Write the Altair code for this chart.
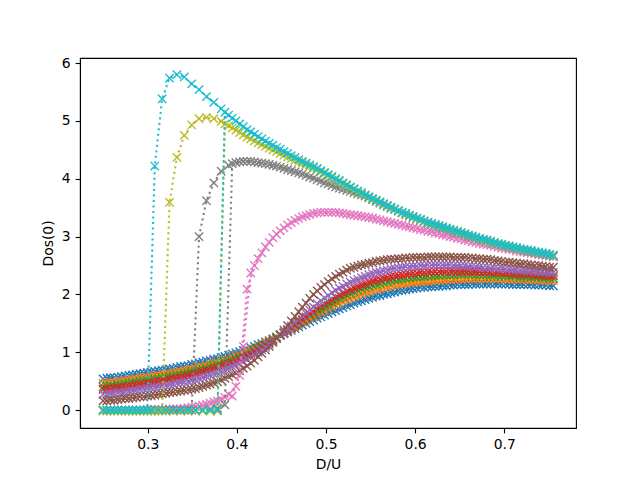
import altair as alt
import numpy as np
import pandas as pd

# Two interleaved D/U grids: the downward sweep (62 pts) and the upward sweep (61 pts, mid-way)
XD = np.linspace(0.25, 0.755, 62)
XU = (XD[:-1] + XD[1:]) / 2

BLUE_DN = [0.54, 0.56, 0.57, 0.59, 0.61, 0.63, 0.65, 0.67, 0.69, 0.71, 0.74, 0.76, 0.79, 0.82, 0.85, 0.88,
           0.91, 0.95, 0.99, 1.03, 1.08, 1.13, 1.18, 1.23, 1.29, 1.35, 1.41, 1.47, 1.53, 1.59, 1.64, 1.70,
           1.75, 1.80, 1.85, 1.89, 1.93, 1.97, 2.00, 2.03, 2.06, 2.08, 2.10, 2.12, 2.13, 2.14, 2.15, 2.16,
           2.17, 2.17, 2.18, 2.18, 2.18, 2.18, 2.18, 2.18, 2.17, 2.17, 2.17, 2.16, 2.16, 2.15]
BLUE_UP = [0.55, 0.56, 0.58, 0.60, 0.62, 0.64, 0.66, 0.68, 0.70, 0.72, 0.75, 0.77, 0.80, 0.83, 0.86, 0.89,
           0.93, 0.97, 1.01, 1.05, 1.10, 1.15, 1.20, 1.26, 1.32, 1.38, 1.44, 1.50, 1.56, 1.61, 1.67, 1.72,
           1.77, 1.82, 1.87, 1.91, 1.95, 1.98, 2.01, 2.04, 2.07, 2.09, 2.11, 2.12, 2.13, 2.14, 2.15, 2.16,
           2.17, 2.17, 2.18, 2.18, 2.18, 2.18, 2.18, 2.17, 2.17, 2.17, 2.16, 2.16, 2.15]
ORANGE_DN = [0.46, 0.48, 0.49, 0.51, 0.53, 0.55, 0.57, 0.59, 0.61, 0.63, 0.66, 0.68, 0.71, 0.74, 0.77, 0.81,
             0.84, 0.88, 0.93, 0.98, 1.03, 1.09, 1.16, 1.23, 1.30, 1.37, 1.44, 1.52, 1.59, 1.66, 1.72, 1.79,
             1.85, 1.91, 1.96, 2.01, 2.05, 2.09, 2.12, 2.15, 2.17, 2.19, 2.21, 2.22, 2.23, 2.24, 2.25, 2.26,
             2.26, 2.27, 2.27, 2.27, 2.27, 2.27, 2.27, 2.26, 2.26, 2.26, 2.25, 2.25, 2.24, 2.24]
ORANGE_UP = [0.47, 0.48, 0.50, 0.52, 0.54, 0.56, 0.58, 0.60, 0.62, 0.64, 0.67, 0.69, 0.72, 0.75, 0.79, 0.82,
             0.86, 0.90, 0.95, 1.00, 1.06, 1.12, 1.19, 1.26, 1.33, 1.40, 1.48, 1.55, 1.62, 1.69, 1.75, 1.82,
             1.88, 1.93, 1.98, 2.03, 2.07, 2.10, 2.13, 2.16, 2.18, 2.20, 2.21, 2.22, 2.23, 2.24, 2.25, 2.26,
             2.26, 2.27, 2.27, 2.27, 2.27, 2.27, 2.26, 2.26, 2.26, 2.25, 2.25, 2.24, 2.24]
GREEN_DN = [0.40, 0.42, 0.43, 0.45, 0.47, 0.49, 0.51, 0.53, 0.55, 0.58, 0.60, 0.63, 0.66, 0.69, 0.72, 0.76,
            0.80, 0.84, 0.89, 0.94, 1.00, 1.07, 1.14, 1.22, 1.30, 1.38, 1.46, 1.55, 1.63, 1.71, 1.78, 1.86,
            1.93, 1.99, 2.05, 2.10, 2.14, 2.18, 2.21, 2.24, 2.26, 2.28, 2.30, 2.31, 2.32, 2.33, 2.34, 2.34,
            2.35, 2.35, 2.35, 2.34, 2.34, 2.33, 2.33, 2.32, 2.32, 2.31, 2.30, 2.30, 2.29, 2.28]
GREEN_UP = [0.41, 0.42, 0.44, 0.46, 0.48, 0.50, 0.52, 0.54, 0.56, 0.59, 0.61, 0.64, 0.67, 0.70, 0.74, 0.78,
            0.82, 0.86, 0.91, 0.97, 1.03, 1.10, 1.18, 1.26, 1.34, 1.42, 1.50, 1.59, 1.67, 1.74, 1.82, 1.89,
            1.96, 2.02, 2.07, 2.12, 2.16, 2.19, 2.22, 2.25, 2.27, 2.29, 2.30, 2.31, 2.32, 2.33, 2.34, 2.34,
            2.35, 2.35, 2.34, 2.34, 2.33, 2.33, 2.32, 2.32, 2.31, 2.31, 2.30, 2.29, 2.28]
RED_DN = [0.36, 0.37, 0.39, 0.40, 0.42, 0.44, 0.46, 0.48, 0.50, 0.53, 0.55, 0.58, 0.61, 0.64, 0.68, 0.71,
          0.76, 0.80, 0.85, 0.91, 0.97, 1.04, 1.12, 1.20, 1.29, 1.38, 1.47, 1.57, 1.66, 1.75, 1.83, 1.91,
          1.99, 2.05, 2.11, 2.16, 2.21, 2.25, 2.28, 2.31, 2.33, 2.35, 2.37, 2.38, 2.39, 2.40, 2.40, 2.40,
          2.40, 2.40, 2.40, 2.39, 2.39, 2.38, 2.38, 2.37, 2.36, 2.35, 2.35, 2.34, 2.33, 2.32]
RED_UP = [0.36, 0.38, 0.39, 0.41, 0.43, 0.45, 0.47, 0.49, 0.51, 0.54, 0.56, 0.59, 0.62, 0.66, 0.69, 0.73,
          0.78, 0.82, 0.88, 0.94, 1.00, 1.08, 1.16, 1.24, 1.33, 1.42, 1.52, 1.61, 1.70, 1.79, 1.87, 1.95,
          2.02, 2.08, 2.13, 2.18, 2.23, 2.26, 2.29, 2.32, 2.34, 2.36, 2.37, 2.38, 2.39, 2.40, 2.40, 2.40,
          2.40, 2.40, 2.39, 2.39, 2.38, 2.38, 2.37, 2.36, 2.35, 2.35, 2.34, 2.33, 2.32]
PURPLE_DN = [0.27, 0.28, 0.30, 0.31, 0.33, 0.35, 0.37, 0.39, 0.41, 0.43, 0.46, 0.48, 0.51, 0.54, 0.58, 0.62,
             0.67, 0.72, 0.78, 0.84, 0.92, 1.00, 1.09, 1.19, 1.29, 1.40, 1.51, 1.62, 1.73, 1.84, 1.94, 2.03,
             2.11, 2.18, 2.24, 2.29, 2.34, 2.38, 2.41, 2.44, 2.46, 2.48, 2.49, 2.50, 2.51, 2.51, 2.51, 2.51,
             2.50, 2.50, 2.49, 2.48, 2.47, 2.46, 2.45, 2.44, 2.43, 2.42, 2.41, 2.40, 2.39, 2.38]
PURPLE_UP = [0.27, 0.29, 0.30, 0.32, 0.34, 0.36, 0.38, 0.40, 0.42, 0.44, 0.47, 0.49, 0.52, 0.56, 0.60, 0.64,
             0.69, 0.75, 0.81, 0.88, 0.96, 1.04, 1.14, 1.24, 1.34, 1.45, 1.56, 1.67, 1.78, 1.89, 1.98, 2.07,
             2.14, 2.21, 2.26, 2.31, 2.36, 2.39, 2.42, 2.45, 2.47, 2.48, 2.49, 2.50, 2.51, 2.51, 2.51, 2.50,
             2.50, 2.49, 2.48, 2.47, 2.46, 2.45, 2.44, 2.43, 2.42, 2.41, 2.40, 2.39, 2.38]
BROWN_DN = [0.16, 0.17, 0.18, 0.20, 0.21, 0.23, 0.24, 0.26, 0.28, 0.30, 0.32, 0.34, 0.36, 0.39, 0.43, 0.47,
            0.52, 0.58, 0.64, 0.72, 0.81, 0.92, 1.04, 1.17, 1.31, 1.46, 1.62, 1.78, 1.93, 2.06, 2.17, 2.27,
            2.35, 2.42, 2.47, 2.51, 2.54, 2.57, 2.59, 2.61, 2.62, 2.63, 2.64, 2.64, 2.65, 2.65, 2.65, 2.65,
            2.64, 2.64, 2.63, 2.62, 2.61, 2.59, 2.57, 2.56, 2.54, 2.53, 2.51, 2.50, 2.48, 2.47]
BROWN_UP = [0.16, 0.17, 0.19, 0.20, 0.22, 0.23, 0.25, 0.27, 0.29, 0.31, 0.33, 0.35, 0.37, 0.41, 0.45, 0.49,
            0.55, 0.61, 0.68, 0.76, 0.86, 0.98, 1.10, 1.24, 1.38, 1.54, 1.70, 1.85, 2.00, 2.12, 2.22, 2.31,
            2.38, 2.45, 2.49, 2.52, 2.55, 2.58, 2.60, 2.61, 2.62, 2.63, 2.64, 2.64, 2.65, 2.65, 2.65, 2.64,
            2.64, 2.63, 2.62, 2.61, 2.60, 2.58, 2.56, 2.55, 2.53, 2.52, 2.50, 2.49, 2.47]
PINK_DN = [0.00, 0.00, 0.00, 0.00, 0.00, 0.00, 0.01, 0.01, 0.01, 0.02, 0.02, 0.03, 0.05, 0.07, 0.10, 0.14,
           0.19, 0.27, 0.41, 1.10, 2.37, 2.62, 2.82, 2.98, 3.10, 3.20, 3.28, 3.34, 3.38, 3.41, 3.42, 3.42,
           3.41, 3.39, 3.37, 3.35, 3.33, 3.30, 3.27, 3.24, 3.21, 3.18, 3.15, 3.12, 3.09, 3.06, 3.03, 3.00,
           2.97, 2.94, 2.91, 2.88, 2.86, 2.83, 2.80, 2.78, 2.75, 2.73, 2.71, 2.69, 2.67, 2.65]
PINK_UP = [0.00, 0.00, 0.00, 0.00, 0.00, 0.00, 0.01, 0.01, 0.01, 0.02, 0.02, 0.04, 0.06, 0.08, 0.12, 0.16,
           0.22, 0.24, 0.60, 2.09, 2.50, 2.72, 2.90, 3.04, 3.15, 3.24, 3.31, 3.36, 3.40, 3.42, 3.42, 3.42,
           3.40, 3.38, 3.36, 3.34, 3.32, 3.29, 3.26, 3.23, 3.20, 3.17, 3.14, 3.11, 3.08, 3.05, 3.02, 2.99,
           2.96, 2.93, 2.90, 2.87, 2.85, 2.82, 2.79, 2.77, 2.74, 2.72, 2.70, 2.68, 2.66]

# hysteretic series: insulating branch near 0, then the metallic branch
GRAY_DN = [0.00] * 13 + [
    3.00, 3.62, 3.93, 4.13, 4.23, 4.28, 4.30, 4.30, 4.28, 4.26, 4.23, 4.20, 4.16, 4.12, 4.08,
    4.03, 3.98, 3.93, 3.88, 3.84, 3.80, 3.76, 3.72, 3.67, 3.61, 3.55, 3.49, 3.44, 3.38, 3.33,
    3.28, 3.23, 3.19, 3.15, 3.11, 3.07, 3.03, 2.99, 2.95, 2.92, 2.88, 2.85, 2.82, 2.79, 2.76,
    2.74, 2.71, 2.69, 2.66]
GRAY_UP = [0.00] * 14 + [0.01, 0.03, 0.09] + [
    4.26, 4.29, 4.30, 4.29, 4.27, 4.25, 4.22, 4.18, 4.14, 4.10, 4.06, 4.01, 3.96, 3.91, 3.86,
    3.82, 3.78, 3.74, 3.70, 3.64, 3.58, 3.52, 3.47, 3.41, 3.36, 3.31, 3.26, 3.21, 3.17, 3.13,
    3.09, 3.05, 3.01, 2.97, 2.94, 2.90, 2.87, 2.84, 2.81, 2.78, 2.75, 2.73, 2.70, 2.68]
OLIVE_DN = [-0.02] * 9 + [
    3.59, 4.37, 4.75, 4.93, 5.04, 5.06, 5.04, 4.99, 4.92, 4.84, 4.76, 4.69, 4.62, 4.56, 4.50,
    4.44, 4.38, 4.32, 4.27, 4.21, 4.16, 4.09, 4.02, 3.95, 3.88, 3.81, 3.74, 3.68, 3.62, 3.56,
    3.50, 3.44, 3.39, 3.34, 3.29, 3.24, 3.20, 3.16, 3.12, 3.08, 3.04, 3.00, 2.96, 2.93, 2.89,
    2.86, 2.83, 2.80, 2.77, 2.75, 2.72, 2.70, 2.67]
OLIVE_UP = [-0.02] * 16 + [
    4.95, 4.88, 4.80, 4.72, 4.65, 4.59, 4.53, 4.47, 4.41, 4.35, 4.29, 4.24, 4.18, 4.12, 4.05,
    3.98, 3.91, 3.84, 3.77, 3.71, 3.65, 3.59, 3.53, 3.47, 3.41, 3.36, 3.31, 3.26, 3.22, 3.18,
    3.14, 3.10, 3.06, 3.02, 2.98, 2.94, 2.91, 2.87, 2.84, 2.81, 2.78, 2.76, 2.73, 2.71, 2.68]
CYAN_DN = [0.00] * 7 + [
    4.22, 5.38, 5.74, 5.80, 5.76, 5.64, 5.54, 5.42, 5.32, 5.21, 5.10, 5.00, 4.90, 4.81, 4.73,
    4.65, 4.58, 4.51, 4.44, 4.37, 4.30, 4.24, 4.18, 4.11, 4.04, 3.97, 3.90, 3.83, 3.76, 3.69,
    3.63, 3.57, 3.51, 3.45, 3.40, 3.35, 3.30, 3.25, 3.21, 3.17, 3.13, 3.09, 3.05, 3.01, 2.97,
    2.94, 2.90, 2.87, 2.84, 2.81, 2.78, 2.76, 2.73, 2.71, 2.68]
CYAN_UP = [0.00] * 16 + [
    5.15, 5.05, 4.95, 4.85, 4.77, 4.69, 4.61, 4.54, 4.47, 4.40, 4.33, 4.27, 4.21, 4.14, 4.07,
    4.00, 3.93, 3.86, 3.79, 3.72, 3.66, 3.60, 3.54, 3.48, 3.42, 3.37, 3.32, 3.27, 3.23, 3.19,
    3.15, 3.11, 3.07, 3.03, 2.99, 2.95, 2.92, 2.88, 2.85, 2.82, 2.79, 2.77, 2.74, 2.72, 2.69]

SERIES = [(BLUE_UP, BLUE_DN), (ORANGE_UP, ORANGE_DN), (GREEN_UP, GREEN_DN), (RED_UP, RED_DN),
          (PURPLE_UP, PURPLE_DN), (BROWN_UP, BROWN_DN), (PINK_UP, PINK_DN),
          (GRAY_UP, GRAY_DN), (OLIVE_UP, OLIVE_DN), (CYAN_UP, CYAN_DN)]

COLORS = ["#1f77b4", "#ff7f0e", "#2ca02c", "#d62728", "#9467bd",
          "#8c564b", "#e377c2", "#7f7f7f", "#bcbd22", "#17becf"]

rows = []
for s, (up, dn) in enumerate(SERIES):
    path = list(zip(XU, up)) + list(zip(XD, dn))[::-1]
    for k, (xv, yv) in enumerate(path):
        rows.append({"s": s, "o": k, "x": float(xv), "y": float(yv)})
df = pd.DataFrame(rows)

xscale = alt.Scale(domain=[0.2241, 0.7804], nice=False, zero=False)
yscale = alt.Scale(domain=[-0.31, 6.088], nice=False, zero=False)
xaxis = alt.Axis(values=[0.3, 0.4, 0.5, 0.6, 0.7], format=".1f", title="D/U")
yaxis = alt.Axis(values=[0, 1, 2, 3, 4, 5, 6], format="d", title="Dos(0)")

XSHAPE = "M-1,-1L1,1M1,-1L-1,1"

layers = []
base = alt.Chart(df)
for s in range(10):
    c = COLORS[s]
    b = base.transform_filter(alt.datum.s == s)
    line = b.mark_line(color=c, strokeWidth=2.08, strokeDash=[2.08, 3.44], strokeCap="butt", clip=True).encode(
        x=alt.X("x:Q", scale=xscale, axis=xaxis),
        y=alt.Y("y:Q", scale=yscale, axis=yaxis),
        order=alt.Order("o:Q"),
    )
    pts = b.mark_point(shape=XSHAPE, size=69, filled=False, strokeWidth=1.39, color=c, opacity=1, clip=True).encode(
        x=alt.X("x:Q", scale=xscale, axis=xaxis),
        y=alt.Y("y:Q", scale=yscale, axis=yaxis),
    )
    layers += [line, pts]

chart = alt.layer(*layers).properties(
    width=496, height=370,
    autosize=alt.AutoSizeParams(type="none"),
    padding={"left": 80, "top": 58, "right": 64, "bottom": 52},
    background="white",
).configure_view(
    stroke="black", strokeWidth=1.1
).configure_axis(
    grid=False, domainColor="black", domainWidth=1.1, tickColor="black", tickWidth=1.1, tickSize=4.9,
    labelFont="DejaVu Sans", labelFontSize=13.9, labelColor="black", labelPadding=4.9,
    titleFont="DejaVu Sans", titleFontSize=13.9, titleColor="black", titleFontWeight="normal",
    labelFlush=False, labelOverlap=False,
).configure_axisX(titlePadding=6).configure_axisY(titlePadding=6)

chart.save("out.html", embed_options={"renderer": "svg", "actions": False})
